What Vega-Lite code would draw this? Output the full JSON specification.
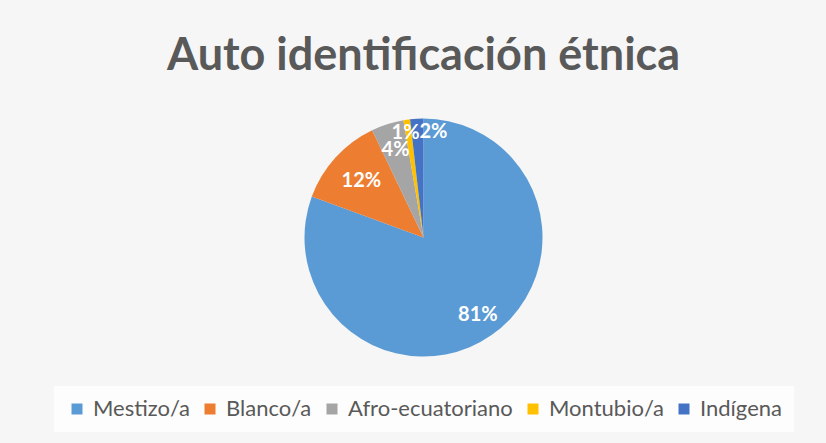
{
  "$schema": "https://vega.github.io/schema/vega-lite/v6.json",
  "width": 826,
  "height": 443,
  "autosize": {"type": "fit", "contains": "padding"},
  "padding": {"left": 21, "right": 0, "top": 34, "bottom": 11},
  "background": "#f6f6f6",
  "title": {
    "text": "Auto identificación étnica",
    "font": "Lato",
    "fontWeight": "bold",
    "fontSize": 45,
    "color": "#595959",
    "anchor": "middle",
    "offset": 30
  },
  "config": {
    "legend": {"layout": {"bottom": {"anchor": "middle"}}}
  },
  "data": {
    "values": [
      {"categoria": "Mestizo/a", "orden": 1, "proporcion": 0.806},
      {"categoria": "Blanco/a", "orden": 2, "proporcion": 0.123},
      {"categoria": "Afro-ecuatoriano", "orden": 3, "proporcion": 0.044},
      {"categoria": "Montubio/a", "orden": 4, "proporcion": 0.009},
      {"categoria": "Indígena", "orden": 5, "proporcion": 0.018}
    ]
  },
  "encoding": {
    "theta": {"field": "proporcion", "type": "quantitative", "stack": true},
    "order": {"field": "orden", "type": "quantitative"}
  },
  "layer": [
    {
      "mark": {"type": "arc", "outerRadius": 119},
      "encoding": {
        "color": {
          "field": "categoria",
          "type": "nominal",
          "scale": {
            "domain": ["Mestizo/a", "Blanco/a", "Afro-ecuatoriano", "Montubio/a", "Indígena"],
            "range": ["#5B9BD5", "#ED7D31", "#A5A5A5", "#FFC000", "#4472C4"]
          },
          "legend": {
            "title": null,
            "orient": "bottom",
            "direction": "horizontal",
            "columns": 5,
            "symbolType": "square",
            "symbolSize": 121,
            "symbolStrokeWidth": 0,
            "labelFont": "Lato",
            "labelFontSize": 22,
            "labelColor": "#595959",
            "labelLimit": 400,
            "labelOffset": 5,
            "columnPadding": 9,
            "fillColor": "#fdfdfd",
            "padding": 12,
            "offset": 20
          }
        }
      }
    },
    {
      "mark": {"type": "text", "radius": 95, "font": "Lato", "fontWeight": "bold", "fontSize": 20, "fill": "white"},
      "encoding": {
        "text": {
          "condition": {"test": "datum.orden == 1", "field": "proporcion", "type": "quantitative", "format": ".0%"},
          "value": ""
        }
      }
    },
    {
      "mark": {"type": "text", "radius": 84, "font": "Lato", "fontWeight": "bold", "fontSize": 20, "fill": "white"},
      "encoding": {
        "text": {
          "condition": {"test": "datum.orden == 2", "field": "proporcion", "type": "quantitative", "format": ".0%"},
          "value": ""
        }
      }
    },
    {
      "mark": {"type": "text", "radius": 92, "font": "Lato", "fontWeight": "bold", "fontSize": 20, "fill": "white"},
      "encoding": {
        "text": {
          "condition": {"test": "datum.orden == 3", "field": "proporcion", "type": "quantitative", "format": ".0%"},
          "value": ""
        }
      }
    },
    {
      "mark": {"type": "text", "radius": 106, "font": "Lato", "fontWeight": "bold", "fontSize": 20, "fill": "white", "dx": -3},
      "encoding": {
        "text": {
          "condition": {"test": "datum.orden == 4", "field": "proporcion", "type": "quantitative", "format": ".0%"},
          "value": ""
        }
      }
    },
    {
      "mark": {"type": "text", "radius": 106, "font": "Lato", "fontWeight": "bold", "fontSize": 20, "fill": "white", "dx": 16},
      "encoding": {
        "text": {
          "condition": {"test": "datum.orden == 5", "field": "proporcion", "type": "quantitative", "format": ".0%"},
          "value": ""
        }
      }
    }
  ]
}
